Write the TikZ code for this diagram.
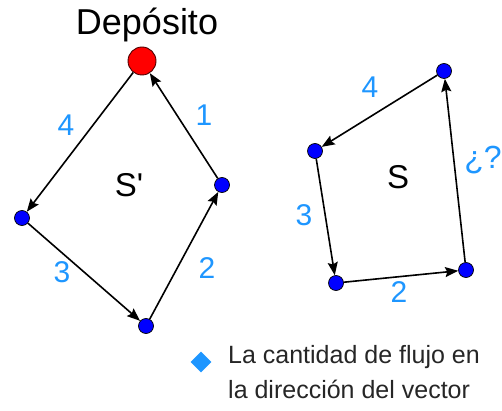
\documentclass[tikz,border=0pt]{standalone}
\usepackage{fontspec}
\setmainfont{Liberation Sans}
\newfontfamily\rawsans[Ligatures=TeXOff]{Liberation Sans}
\usetikzlibrary{arrows.meta,shapes.geometric}
\definecolor{lblblue}{RGB}{30,150,255}
\definecolor{dotblue}{RGB}{0,0,255}
\definecolor{depred}{RGB}{255,0,0}
\tikzset{
  vdot/.style={circle,fill=dotblue,draw=black,line width=0.7pt,minimum size=15pt,inner sep=0pt},
  depot/.style={circle,fill=depred,draw=black!70!red,line width=0.9pt,minimum size=28pt,inner sep=0pt},
  flow/.style={draw=black,line width=1.6pt,-{Stealth[length=13pt,width=10pt,inset=2pt]}},
  num/.style={text=lblblue,inner sep=0pt,font=\fontsize{30}{36}\selectfont},
  big/.style={text=black,inner sep=0pt,font=\rawsans\fontsize{33}{40}\selectfont},
  legtext/.style={text=black!85,inner sep=0pt,anchor=base west,font=\fontsize{25}{30}\selectfont},
}
\begin{document}
\begin{tikzpicture}[x=1pt,y=-1pt]
\useasboundingbox (0,0) rectangle (502,411);
% left polygon
\node[depot] (D) at (142,61) {};
\node[vdot] (R1) at (222,185) {};
\node[vdot] (B1) at (146,326) {};
\node[vdot] (L1) at (22,218) {};
\node[anchor=base,inner sep=0pt,font=\fontsize{36}{42}\selectfont] (dep) at (147,35) {Depósito};
\draw[flow] (R1) -- (D);
\draw[flow] (D) -- (L1);
\draw[flow] (L1) -- (B1);
\draw[flow] (B1) -- (R1);
\node[num] (n1) at (204,115) {1};
\node[num] (n4) at (66,125) {4};
\node[num] (n3) at (62,272) {3};
\node[num] (n2) at (207,268) {2};
\node[big] (Sp) at (129,185) {S'};
% right polygon
\node[vdot] (T2) at (444,71) {};
\node[vdot] (L2) at (315,151) {};
\node[vdot] (BL2) at (336,283) {};
\node[vdot] (BR2) at (466,270) {};
\draw[flow] (T2) -- (L2);
\draw[flow] (L2) -- (BL2);
\draw[flow] (BL2) -- (BR2);
\draw[flow] (BR2) -- (T2);
\node[num] (m4) at (370,87) {4};
\node[num] (m3) at (304,215) {3};
\node[num] (m2) at (399,292) {2};
\node[num,font=\fontsize{32}{38}\selectfont] (mq) at (483,160) {¿?};
\node[big] (S) at (398,177) {S};
% legend
\node[diamond,fill=lblblue,inner sep=0pt,minimum width=21pt,minimum height=21pt] (dia) at (201,362) {};
\node[legtext] (leg1) at (228,363) {La cantidad de flujo en};
\node[legtext] (leg2) at (228,398) {la dirección del vector};
\end{tikzpicture}
\end{document}
